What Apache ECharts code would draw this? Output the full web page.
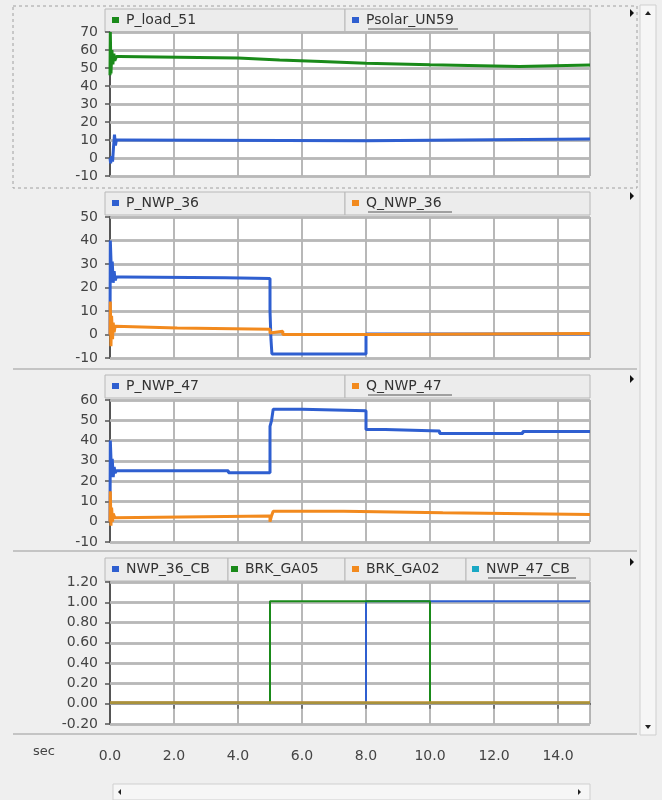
<!DOCTYPE html>
<html>
<head>
<meta charset="utf-8">
<script src="https://cdn.jsdelivr.net/npm/echarts@6/dist/echarts.min.js"></script>
<style>html,body{margin:0;padding:0;background:#efefef}#c{width:662px;height:800px}</style>
</head>
<body>
<div id="c"></div>
<script>
// ---- data: [time (sec), value] ; value holds until next point ----
const xTicks = [0, 2, 4, 6, 8, 10, 12, 14];
const pLoad51 = [[0,46],[0.01,70],[0.03,47],[0.06,60],[0.09,52],[0.12,58],[0.15,54],[0.2,56.4],[0.3,55.6],[4.0,54.5],[5.3,53.6],[6.6,52.6],[8.0,51.8],[10.0,50.8],[12.8,51.6],[15,51.6]];
const psolarUN59 = [[0,0],[0.02,-3],[0.05,1],[0.08,-2],[0.11,6],[0.14,13],[0.17,7],[0.2,10],[0.3,9.6],[8.0,10.6],[15,10.6]];
const pNWP36 = [[0,0],[0.01,40],[0.04,28],[0.07,31],[0.1,22],[0.13,27],[0.16,23],[0.2,24.5],[0.4,24.2],[3.6,23.8],[5.0,10],[5.03,-2],[5.06,-8.3],[8.0,0.2],[15,0.2]];
const qNWP36 = [[0,0],[0.01,14],[0.03,-5],[0.05,8],[0.08,-2],[0.1,5],[0.13,1],[0.16,3.5],[0.2,2.8],[2.1,2.2],[5.0,0.6],[5.05,1.4],[5.4,0],[8.4,0.4],[15,0.4]];
const pNWP47 = [[0,0],[0.01,40],[0.04,27],[0.07,31],[0.1,22],[0.13,27],[0.16,24],[0.2,25.1],[3.7,24.1],[5.0,47],[5.05,50],[5.1,55.5],[6.0,54.7],[8.0,45.5],[8.6,44.7],[10.3,43.5],[12.9,44.5],[15,44.5]];
const qNWP47 = [[0,0],[0.01,15],[0.03,-2],[0.05,7],[0.08,0],[0.1,4],[0.15,2],[0.2,2.8],[5.0,0],[5.05,3],[5.1,5.2],[7.3,4.4],[10.4,3.6],[15,3.6]];
const nwp36CB = [[0,0.01],[8.0,1.01],[15,1.01]];
const brkGA05 = [[0,0.01],[5.0,1.01],[10.0,0.01],[15,0.01]];
const brkGA02 = [[0,0.01],[15,0.01]];
const nwp47CB = [[0,0.01],[15,0.01]];
const yRanges = [[-10,70,10],[-10,50,10],[-10,60,10],[-0.2,1.2,0.2]];
const yTicks1 = [-10,0,10,20,30,40,50,60,70];
const yTicks2 = [-10,0,10,20,30,40,50];
const yTicks3 = [-10,0,10,20,30,40,50,60];
const yTicks4 = [-0.2,0,0.2,0.4,0.6,0.8,1.0,1.2];
const yTicks = [yTicks1, yTicks2, yTicks3, yTicks4];

// ---- styling ----
const FONT = 'DejaVu Sans';
const GREEN = '#1a8a1a', BLUE = '#2f5fd0', ORANGE = '#f28a1e', CYAN = '#1aa8c4', OLIVE = '#a8923c';
const GRIDH = '#b8b8b8';
const grids = [
  {left:110, top:32, width:480, height:144},
  {left:110, top:217, width:480, height:141},
  {left:110, top:400, width:480, height:142},
  {left:110, top:582, width:480, height:142}
];
const headerY = [21, 204, 387, 570];

const xAxis = grids.map((g,i) => ({
  type:'value', gridIndex:i, min:0, max:15, interval:2,
  offset: i===3 ? 15 : 0,
  axisLine:{show:i===3, lineStyle:{color:'#555', width:2}},
  axisTick:{show:i===3, length:5, lineStyle:{color:'#555', width:1.5}},
  axisLabel:{show:i===3, showMaxLabel:false, margin:10, color:'#444', fontFamily:FONT, fontSize:14, formatter:v=>v.toFixed(1)},
  splitLine:{show:true, lineStyle:{color:'#a0a0a0', width:1.5}}
}));
const yAxis = yRanges.map((r,i) => ({
  type:'value', gridIndex:i, min:r[0], max:r[1], interval:r[2],
  axisLine:{show:true, onZero:false, lineStyle:{color:'#555', width:2}},
  axisTick:{show:true, length:5, lineStyle:{color:'#555', width:1.5}},
  axisLabel:{margin:12, color:'#444', fontFamily:FONT, fontSize:14, formatter: v => i===3 ? v.toFixed(2) : String(Math.round(v))},
  splitArea:{show:true, areaStyle:{color:['#ffffff']}},
  splitLine:{show:true, lineStyle:{color:GRIDH, width:2.5}}
}));

function ser(name, data, idx, color, width, lineColor) {
  return {name, type:'line', xAxisIndex:idx, yAxisIndex:idx, data, step:'end',
    showSymbol:false, symbol:'none', animation:false, silent:true, z:6,
    itemStyle:{color}, lineStyle:{color: lineColor || color, width}};
}
// horizontal grid lines through the y scale (one helper series per panel, drawn below the data)
const gridSeries = yTicks.map((t,i) => ({
  type:'line', xAxisIndex:i, yAxisIndex:i, data:[[0, t[0]]], showSymbol:false, symbol:'none',
  lineStyle:{opacity:0}, itemStyle:{opacity:0}, silent:true, animation:false, z:1,
  markLine:{z:1, silent:true, symbol:['none','none'], animation:false, label:{show:false},
    lineStyle:{color:GRIDH, width:2.5, type:'solid'}, emphasis:{disabled:true},
    data:t.map(v => ({yAxis:v}))}
}));
const series = gridSeries.concat([
  ser('Psolar_UN59', psolarUN59, 0, BLUE, 3),
  ser('P_load_51', pLoad51, 0, GREEN, 3),
  ser('P_NWP_36', pNWP36, 1, BLUE, 3),
  ser('Q_NWP_36', qNWP36, 1, ORANGE, 3),
  ser('P_NWP_47', pNWP47, 2, BLUE, 3),
  ser('Q_NWP_47', qNWP47, 2, ORANGE, 3),
  ser('NWP_36_CB', nwp36CB, 3, BLUE, 2),
  ser('BRK_GA05', brkGA05, 3, GREEN, 2),
  ser('BRK_GA02', brkGA02, 3, ORANGE, 2.5),
  ser('NWP_47_CB', nwp47CB, 3, CYAN, 2.5, OLIVE)
]);

// legend items: [name, iconLeft, panel]
const legendItems = [
  ['P_load_51',112,0],['Psolar_UN59',352,0],
  ['P_NWP_36',112,1],['Q_NWP_36',352,1],
  ['P_NWP_47',112,2],['Q_NWP_47',352,2],
  ['NWP_36_CB',112,3],['BRK_GA05',231,3],['BRK_GA02',352,3],['NWP_47_CB',472,3]
];
const legend = legendItems.map(([n,l,p]) => ({
  data:[n], left:l, top:headerY[p]-8, padding:0, icon:'rect', itemWidth:7, itemHeight:6, itemGap:0,
  selectedMode:false, textStyle:{color:'#333', fontFamily:FONT, fontSize:14, padding:[0,0,0,2]}
}));

const graphic = [];
// header boxes (x ranges) per panel
const boxes = [
  [[105,345],[345,590]], [[105,345],[345,590]], [[105,345],[345,590]],
  [[105,228],[228,345],[345,466],[466,590]]
];
boxes.forEach((bs,p) => bs.forEach(([a,b]) => graphic.push({
  type:'rect', shape:{x:a, y:headerY[p]-12, width:b-a, height:23},
  style:{fill:'#ececec', stroke:'#b8b8b8', lineWidth:1}
})));
// underlines
[[368,458,0],[368,452,1],[368,452,2],[488,576,3]].forEach(([a,b,p]) => graphic.push({
  type:'line', shape:{x1:a, y1:headerY[p]+8, x2:b, y2:headerY[p]+8}, style:{stroke:'#555', lineWidth:1}
}));
// panel frame & separators
graphic.push({type:'rect', shape:{x:13, y:6, width:624, height:182}, style:{fill:'none', stroke:'#a0a0a0', lineDash:[3,3], lineWidth:1}});
[369, 551, 734].forEach(y => graphic.push({type:'line', shape:{x1:13, y1:y, x2:637, y2:y}, style:{stroke:'#c4c4c4', lineWidth:2}}));
// small triangles at the right of headers
headerY.forEach(y => graphic.push({type:'polygon', shape:{points:[[630,y-12],[630,y-4],[634,y-8]]}, style:{fill:'#111'}}));
// vertical scrollbar
graphic.push({type:'rect', shape:{x:640, y:5, width:16, height:730}, style:{fill:'#f6f6f6', stroke:'#cfcfcf'}});
graphic.push({type:'polygon', shape:{points:[[645,15],[651,15],[648,11]]}, style:{fill:'#222'}});
graphic.push({type:'polygon', shape:{points:[[645,725],[651,725],[648,729]]}, style:{fill:'#222'}});
// horizontal scrollbar
graphic.push({type:'rect', shape:{x:113, y:784, width:477, height:16}, style:{fill:'#f6f6f6', stroke:'#cfcfcf'}});
graphic.push({type:'polygon', shape:{points:[[121,789],[121,795],[118,792]]}, style:{fill:'#222'}});
graphic.push({type:'polygon', shape:{points:[[578,789],[578,795],[581,792]]}, style:{fill:'#222'}});
// "sec" label
graphic.push({type:'text', left:33, top:745, style:{text:'sec', fill:'#444', font:'13px "DejaVu Sans"'}});

const chart = echarts.init(document.getElementById('c'));
chart.setOption({
  backgroundColor:'#efefef',
  animation:false,
  grid: grids.map(g => Object.assign({show:false, containLabel:false}, g)),
  xAxis, yAxis, series, legend, graphic
});
</script>
</body>
</html>
